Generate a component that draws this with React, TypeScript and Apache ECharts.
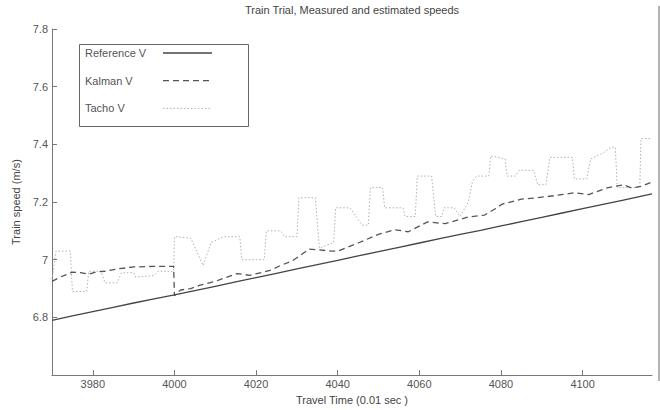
import React, { useEffect, useRef } from "react";
import * as echarts from "echarts";

const titleText = "Train Trial, Measured and estimated speeds";
const xName = "Travel Time (0.01 sec )";
const yName = "Train speed (m/s)";
const seriesNames = ["Reference V", "Kalman V", "Tacho V"];

const refX = [3970, 3975, 3980, 3985, 3990, 3995, 4000, 4005, 4010, 4015, 4020, 4025, 4030, 4035, 4040, 4045, 4050, 4055, 4060, 4065, 4070, 4075, 4080, 4085, 4090, 4095, 4100, 4105, 4110, 4115, 4117];
const refY = [6.79, 6.805, 6.82, 6.835, 6.85, 6.864, 6.878, 6.893, 6.908, 6.923, 6.938, 6.953, 6.968, 6.983, 6.998, 7.013, 7.028, 7.043, 7.058, 7.073, 7.088, 7.102, 7.117, 7.132, 7.147, 7.162, 7.177, 7.192, 7.207, 7.222, 7.228];

const kalX = [3970, 3972, 3975, 3977, 3979, 3981, 3983, 3986, 3990, 3995, 3999.8, 4000, 4001.5, 4004, 4006.3, 4010, 4015.3, 4018.5, 4023.4, 4026, 4029, 4033, 4038.5, 4040, 4045, 4050, 4054, 4057.3, 4062, 4066.3, 4072, 4076, 4078.5, 4080.3, 4085, 4089, 4093, 4098, 4101.5, 4106, 4110, 4112, 4114.5, 4117];
const kalY = [6.925, 6.94, 6.957, 6.955, 6.95, 6.958, 6.96, 6.968, 6.975, 6.977, 6.977, 6.875, 6.895, 6.9, 6.912, 6.925, 6.952, 6.946, 6.963, 6.98, 6.997, 7.037, 7.03, 7.03, 7.058, 7.088, 7.104, 7.097, 7.131, 7.125, 7.148, 7.155, 7.176, 7.193, 7.21, 7.215, 7.222, 7.232, 7.226, 7.249, 7.26, 7.249, 7.255, 7.27];

const tachoX = [3970, 3971, 3974.5, 3975, 3978.5, 3979, 3982, 3983, 3986, 3987, 3990, 3990.5, 3995, 3996, 3999.8, 4000, 4004, 4007, 4009, 4012, 4016, 4016.5, 4022, 4022.5, 4026, 4027, 4030, 4030.5, 4034.5, 4035.5, 4039, 4039.5, 4043, 4046, 4047.5, 4048, 4051, 4051.5, 4056, 4056.5, 4059, 4059.5, 4063, 4064, 4065.5, 4066, 4068.5, 4070, 4072, 4073, 4074, 4077, 4077.5, 4081, 4081.5, 4083.5, 4084.5, 4088, 4089, 4091, 4092, 4097.5, 4098, 4101, 4102, 4105, 4107, 4108, 4108.5, 4114, 4114.3, 4117];
const tachoY = [6.93, 7.03, 7.03, 6.89, 6.89, 6.96, 6.96, 6.92, 6.92, 6.955, 6.955, 6.94, 6.945, 6.96, 6.96, 7.08, 7.075, 6.98, 7.06, 7.08, 7.08, 7.0, 7.0, 7.1, 7.1, 7.08, 7.08, 7.215, 7.215, 7.04, 7.06, 7.18, 7.18, 7.12, 7.12, 7.25, 7.25, 7.18, 7.18, 7.15, 7.15, 7.29, 7.29, 7.15, 7.15, 7.18, 7.18, 7.15, 7.2, 7.27, 7.29, 7.29, 7.36, 7.35, 7.29, 7.29, 7.31, 7.31, 7.26, 7.26, 7.355, 7.355, 7.28, 7.28, 7.35, 7.37, 7.39, 7.39, 7.25, 7.25, 7.42, 7.42];

const zip = (xs: number[], ys: number[]) => xs.map((x, i) => [x, ys[i]]);

const FONT = "Liberation Sans";
const REF_COLOR = "#444";
const KAL_COLOR = "#555";
const TACHO_COLOR = "#b0b0b0";
const legendStyles = [
  { stroke: REF_COLOR, lineWidth: 1.3 },
  { stroke: KAL_COLOR, lineWidth: 1.3, lineDash: [6, 4] },
  { stroke: TACHO_COLOR, lineWidth: 1, lineDash: [1.5, 2] },
];

export default function App() {
  const ref = useRef<HTMLDivElement>(null);
  useEffect(() => {
    if (!ref.current) return;
    const chart = echarts.init(ref.current, undefined, { renderer: "svg" });
    const legendGraphics: any[] = [
      {
        type: "rect",
        shape: { x: 79.5, y: 44.5, width: 169, height: 82 },
        style: { fill: "#fff", stroke: "#666", lineWidth: 1 },
        z: 10,
      },
    ];
    seriesNames.forEach((name, i) => {
      const cy = 53 + i * 27.7;
      legendGraphics.push({
        type: "text",
        x: 85,
        y: cy,
        style: {
          text: name,
          fontFamily: FONT,
          fontSize: 11,
          fill: "#555",
          verticalAlign: "middle",
          align: "left",
        },
        z: 11,
      });
      legendGraphics.push({
        type: "line",
        shape: { x1: 163, y1: cy, x2: 212, y2: cy },
        style: legendStyles[i],
        z: 11,
      });
    });
    chart.setOption({
      animation: false,
      backgroundColor: "#ffffff",
      title: {
        text: titleText,
        left: 352,
        textAlign: "center",
        top: 4,
        padding: 0,
        textStyle: { fontFamily: FONT, fontSize: 11, fontWeight: "normal", color: "#444" },
      },
      grid: { left: 52, right: 8, top: 29, bottom: 29, containLabel: false },
      xAxis: {
        type: "value",
        min: 3970,
        max: 4117,
        splitNumber: 7,
        name: xName,
        nameLocation: "middle",
        nameGap: 13,
        nameTextStyle: { fontFamily: FONT, fontSize: 11, color: "#444" },
        axisLine: { lineStyle: { color: "#777", width: 1 } },
        axisTick: { inside: true, length: 5, lineStyle: { color: "#777" } },
        axisLabel: {
          fontFamily: FONT,
          fontSize: 11,
          color: "#555",
          margin: 3,
          showMinLabel: false,
          showMaxLabel: false,
          formatter: (v: number) => String(v),
        },
        splitLine: { show: false },
      },
      yAxis: {
        type: "value",
        min: 6.6,
        max: 7.8,
        interval: 0.2,
        name: yName,
        nameLocation: "middle",
        nameGap: 30,
        nameTextStyle: { fontFamily: FONT, fontSize: 11, color: "#444" },
        axisLine: { show: true, lineStyle: { color: "#777", width: 1 } },
        axisTick: { show: true, inside: true, length: 5, lineStyle: { color: "#777" } },
        axisLabel: { fontFamily: FONT, fontSize: 11, color: "#555", margin: 4, showMinLabel: false },
        splitLine: { show: false },
      },
      graphic: [
        {
          type: "line",
          shape: { x1: 659, y1: 6, x2: 659, y2: 381 },
          style: { stroke: "#999", lineWidth: 1.5 },
        },
        ...legendGraphics,
      ],
      series: [
        {
          name: seriesNames[0],
          type: "line",
          data: zip(refX, refY),
          symbol: "none",
          lineStyle: { color: REF_COLOR, width: 1.3, type: "solid" },
          z: 3,
        },
        {
          name: seriesNames[1],
          type: "line",
          data: zip(kalX, kalY),
          symbol: "none",
          lineStyle: { color: KAL_COLOR, width: 1.3, type: [6, 4] },
          z: 2,
        },
        {
          name: seriesNames[2],
          type: "line",
          data: zip(tachoX, tachoY),
          symbol: "none",
          lineStyle: { color: TACHO_COLOR, width: 1, type: [1.5, 2] },
          z: 1,
        },
      ],
    });
    return () => chart.dispose();
  }, []);
  return <div ref={ref} style={{ width: 660, height: 410, position: "absolute", left: 0, top: 0 }} />;
}
